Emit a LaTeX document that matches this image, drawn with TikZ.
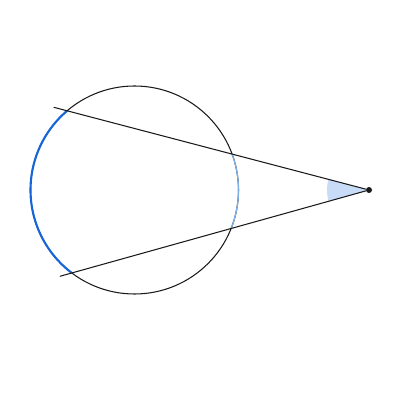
\documentclass[tikz,border=0pt]{standalone}
\usepackage{tikz}
\usepackage{xcolor}
\usetikzlibrary{calc}
\definecolor{vblack}{HTML}{1A1A1A}
\definecolor{vblue}{HTML}{1666D8}
\definecolor{vlightblue}{HTML}{7FB0E8}
\definecolor{vfill}{HTML}{C9DCF7}

\begin{document}
\begin{tikzpicture}[x=0.025cm, y=0.025cm]
	\useasboundingbox (0,0) rectangle (400,400);
	% angle
	\coordinate (C) at (134.5,210);
	\coordinate (Q) at (369,210);
	\fill[vfill] (Q) -- ++(165.3:42) arc[start angle = 165.3, end angle = 195.6, radius = 42] -- cycle;
	% circle
	\draw[line width = 0.75pt, draw = vblack] (C) circle (104);
	\draw[line width = 1.5pt, draw = vblue] ($(C)+(130.4:104)$) arc[start angle = 130.4, end angle = 232.9, radius = 104];
	\draw[line width = 0.9pt, draw = vlightblue] ($(C)+(-21.7:104)$) arc[start angle = -21.7, end angle = 20.2, radius = 104];
	% secants
	\node[circle, fill = vblack, inner sep = 0pt, minimum size = 6*0.025cm] (P) at (Q) {};
	\coordinate (A) at ($(P)+(165.3:326)$);
	\coordinate (B) at ($(P)+(195.6:321)$);
	\draw[line width = 0.75pt, draw = vblack] (P) -- (A);
	\draw[line width = 0.75pt, draw = vblack] (P) -- (B);
\end{tikzpicture}
\end{document}
